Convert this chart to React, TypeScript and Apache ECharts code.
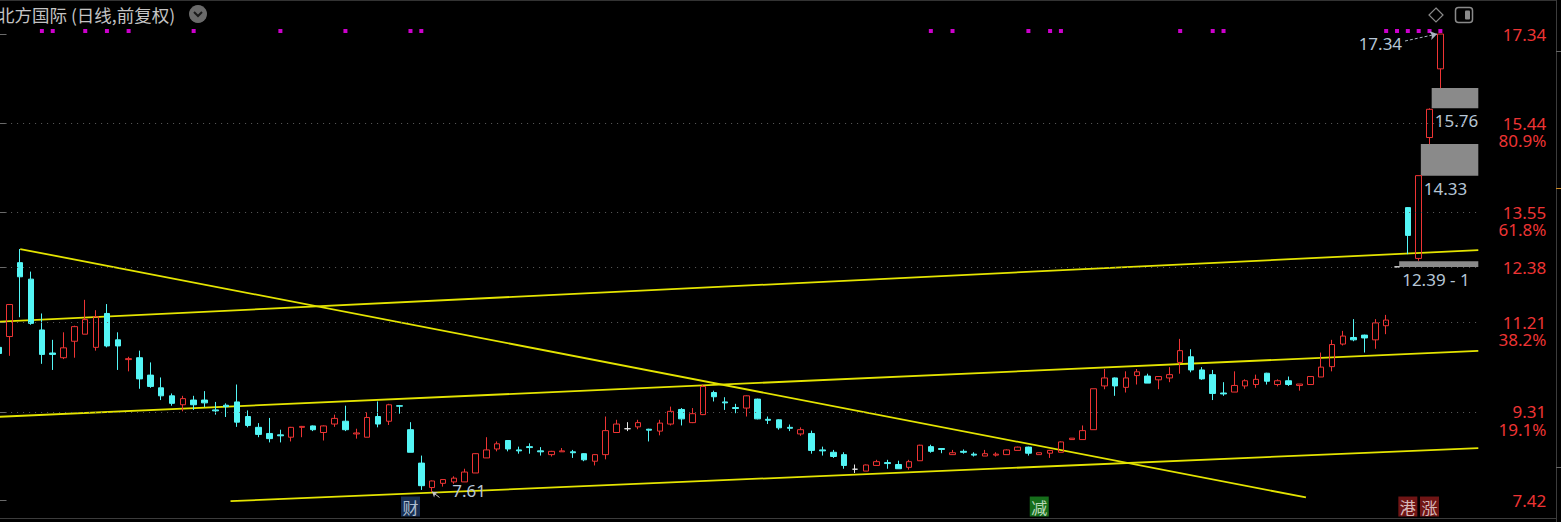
import React, { useEffect, useRef } from 'react';
import * as echarts from 'echarts';

// ---- candle data (open, close, low, high) ----
const opens = [10.68,10.91,12.48,12.13,11.05,10.56,10.46,10.81,10.96,10.68,11.40,10.84,10.42,10.46,10.09,9.82,9.65,9.46,9.56,9.56,9.35,9.45,9.52,9.21,8.98,8.85,8.82,8.77,8.98,9.01,8.87,9.05,9.11,8.84,8.77,9.21,9.11,9.44,8.93,8.22,7.70,7.79,7.82,7.82,8.01,8.33,8.52,8.70,8.50,8.57,8.48,8.40,8.46,8.46,8.42,8.26,8.40,8.87,8.95,8.99,8.94,8.90,9.05,9.36,9.08,9.25,9.72,9.52,9.40,9.39,9.58,9.15,9.14,8.98,8.84,8.85,8.50,8.45,8.40,8.09,8.05,8.17,8.23,8.19,8.13,8.27,8.57,8.53,8.40,8.47,8.41,8.37,8.39,8.40,8.49,8.56,8.40,8.43,8.45,8.72,8.72,8.93,9.86,10.03,9.83,10.08,10.07,9.99,10.03,10.36,10.48,10.20,10.10,9.71,9.73,9.86,9.89,10.13,9.89,9.97,9.87,9.89,10.05,10.27,10.75,10.89,10.94,10.84,11.14,12.39,13.65,12.57,15.14,16.60];
const closes = [10.55,11.59,12.18,11.19,10.53,10.53,10.67,11.12,11.27,11.33,10.71,10.71,10.44,10.01,9.85,9.65,9.49,9.59,9.46,9.50,9.33,9.42,9.09,9.02,8.83,8.74,8.80,8.98,9.00,8.93,9.01,9.17,8.93,8.86,9.19,9.05,9.46,9.43,8.45,7.74,7.84,7.87,7.90,8.03,8.42,8.50,8.63,8.52,8.48,8.55,8.46,8.47,8.48,8.44,8.29,8.40,8.91,9.05,8.95,9.08,8.92,9.07,9.32,9.16,9.27,9.85,9.63,9.50,9.38,9.65,9.16,9.13,8.97,8.96,8.93,8.49,8.48,8.36,8.17,8.09,8.18,8.25,8.21,8.10,8.25,8.60,8.47,8.51,8.44,8.45,8.39,8.42,8.41,8.50,8.56,8.43,8.44,8.49,8.67,8.75,8.91,9.80,10.03,9.86,10.03,10.16,9.92,10.06,10.10,10.61,10.20,10.01,9.70,9.69,9.87,9.97,10.00,9.96,9.97,9.89,9.90,10.06,10.26,10.74,10.92,10.84,10.88,11.20,11.26,12.39,13.06,14.33,15.74,17.34];
const lows = [10.33,10.50,11.32,11.16,10.33,10.20,10.43,10.46,10.96,10.61,10.68,10.20,10.17,9.80,9.82,9.56,9.44,9.32,9.35,9.41,9.25,9.20,8.99,8.98,8.77,8.66,8.66,8.68,8.77,8.90,8.70,8.99,8.90,8.74,8.77,8.98,9.03,9.27,8.45,7.65,7.61,7.72,7.78,7.82,8.01,8.33,8.47,8.47,8.42,8.42,8.38,8.36,8.46,8.33,8.26,8.17,8.30,8.86,8.90,8.94,8.68,8.81,9.02,9.02,9.07,9.24,9.53,9.35,9.28,9.21,9.15,9.05,8.93,8.90,8.80,8.42,8.38,8.33,8.10,8.01,8.05,8.17,8.10,8.10,8.08,8.27,8.44,8.43,8.40,8.42,8.36,8.37,8.36,8.40,8.49,8.38,8.40,8.33,8.45,8.72,8.72,8.93,9.79,9.65,9.72,9.89,9.92,9.79,9.94,10.12,10.15,9.99,9.56,9.65,9.73,9.80,9.82,9.89,9.85,9.86,9.76,9.89,10.05,10.17,10.72,10.81,10.57,10.65,10.96,12.39,12.66,12.52,15.00,16.19];
const highs = [11.23,11.60,12.77,12.29,11.40,10.84,11.00,11.14,11.69,11.47,11.60,11.00,10.48,10.61,10.36,10.04,9.70,9.65,9.65,9.75,9.52,9.49,9.89,9.34,9.07,9.18,8.93,8.99,9.01,9.02,9.02,9.25,9.44,8.95,9.30,9.53,9.48,9.45,9.09,8.38,7.85,7.88,7.94,8.10,8.43,8.77,8.68,8.71,8.57,8.64,8.56,8.48,8.54,8.50,8.43,8.41,9.21,9.14,9.09,9.14,8.95,9.14,9.42,9.39,9.39,9.89,9.76,9.62,9.48,9.66,9.59,9.21,9.15,9.04,8.98,8.91,8.57,8.50,8.45,8.19,8.19,8.29,8.29,8.27,8.29,8.61,8.61,8.54,8.50,8.51,8.45,8.50,8.45,8.51,8.57,8.57,8.44,8.50,8.68,8.75,9.02,9.80,10.22,10.04,10.17,10.22,10.12,10.07,10.26,10.86,10.64,10.26,10.20,9.94,10.17,10.00,10.10,10.14,10.00,10.06,9.90,10.07,10.57,10.84,11.03,11.28,10.95,11.28,11.37,12.39,13.66,14.33,15.76,17.34];
const emptySlots = 3;

// ---- axis ----
const yMin = 7.053;
const yMax = 18.063;
const priceTicks = [7.42, 9.31, 11.21, 12.38, 13.55, 15.44, 17.34];
const fibTicks = [9.31, 11.21, 13.55, 15.44];
const fibLabels = ['19.1%', '38.2%', '61.8%', '80.9%'];
const dottedLevels = [9.31, 11.21, 12.38, 13.55, 15.44];

// ---- trend lines: [index, price] endpoints ----
const trendDown = [[2, 12.77], [120.6, 7.49]];
const trendUpHigh = [[-0.5, 11.218], [136.5, 12.748]];
const trendUpMid = [[-0.5, 9.199], [136.5, 10.607]];
const trendUpLow = [[21.4, 7.41], [136.5, 8.54]];

// ---- gaps ----
const gapFrom = [132, 131, 129];
const gapLow = [15.76, 14.33, 12.39];
const gapHigh = [16.19, 15.0, 12.51];
const gapText = ['15.76', '14.33', '12.39 - 1'];

// ---- marks on top / bottom ----
const dotIndices = [4, 5, 8, 10, 12, 18, 26, 32, 38, 39, 86, 88, 95, 97, 98, 109, 112, 113, 128, 129, 130, 131, 132, 133];
const dotLevel = 17.404;
const eventIdx = [38, 96, 130, 132];
const eventText = ['财', '减', '港', '涨'];
const eventBg = ['#1d3a66', '#1c8a22', '#8c1a1a', '#8c1a1a'];
const eventFg = ['#d8e4f2', '#e6f6e6', '#f4e6e6', '#f4e6e6'];
const eventLevel = 7.297;

const maxIdx = 133;
const maxVal = 17.34;
const minIdx = 40;
const minVal = 7.61;

const RED = '#ee3434';
const CYAN = '#54f6f6';
const FLAT = '#e6e6e6';
const YELLOW = '#e4e400';
const NOTE = '#b6c6d6';
const FONT = "'Noto Sans', 'Noto Sans CJK SC', sans-serif";
const CJK = "'Noto Sans CJK SC', sans-serif";

export default function App() {
  const ref = useRef<HTMLDivElement>(null);
  useEffect(() => {
    if (!ref.current) return;
    const chart = echarts.init(ref.current, null, { renderer: 'svg' });
    const n = opens.length;
    const cats = Array.from({ length: n + emptySlots }, (_, i) => String(i));
    const candleData = opens.map((o, i) => {
      const c = closes[i];
      const stroke = c > o ? RED : c < o ? CYAN : FLAT;
      const fill = c > o ? 'rgba(0,0,0,0)' : stroke;
      return {
        value: [o, c, lows[i], highs[i]],
        itemStyle: { color: fill, color0: fill, borderColor: stroke, borderColor0: stroke, borderColorDoji: stroke },
      };
    });
    const trendSeries = [trendDown, trendUpHigh, trendUpMid, trendUpLow].map((d) => ({
      type: 'line',
      xAxisIndex: 1,
      yAxisIndex: 0,
      data: d,
      symbol: 'none',
      showSymbol: false,
      silent: true,
      z: 1,
      lineStyle: { color: YELLOW, width: 1.8 },
    }));
    const option: any = {
      animation: false,
      backgroundColor: '#000000',
      textStyle: { fontFamily: FONT },
      grid: { left: -6.9, top: 0, width: 1485.2, height: 518, containLabel: false, outerBoundsMode: 'none' },
      xAxis: [
        {
          type: 'category', data: cats, boundaryGap: true,
          axisLine: { show: false }, axisTick: { show: false }, axisLabel: { show: false }, splitLine: { show: false },
        },
        { type: 'value', min: -0.5, max: n + emptySlots - 0.5, show: false, position: 'top' },
      ],
      yAxis: [
        {
          type: 'value', position: 'right', min: yMin, max: yMax,
          axisLine: { show: true, lineStyle: { color: '#4a4a4a', width: 1 } },
          axisTick: { show: true, length: 8, inside: false, customValues: priceTicks, lineStyle: { color: '#6a6a6a' } },
          axisLabel: {
            show: true, customValues: priceTicks, formatter: (v: number) => v.toFixed(2),
            color: RED, fontSize: 17, align: 'right', verticalAlign: 'middle', margin: 68, fontFamily: FONT,
          },
          splitLine: { show: false },
        },
        {
          type: 'value', position: 'right', min: yMin, max: yMax,
          axisLine: { show: false }, axisTick: { show: false }, splitLine: { show: false },
          axisLabel: {
            show: true, customValues: fibTicks,
            formatter: (v: number) => {
              const k = fibTicks.findIndex((t) => Math.abs(t - v) < 1e-6);
              return k >= 0 ? fibLabels[k] : '';
            },
            color: RED, fontSize: 17, align: 'right', verticalAlign: 'top', padding: [9, 0, 0, 0], margin: 68, fontFamily: FONT,
          },
        },
      ],
      series: [
        ...trendSeries,
        {
          // host for reference levels, gap boxes and extreme notes
          type: 'line',
          xAxisIndex: 1,
          yAxisIndex: 0,
          data: [],
          symbol: 'none',
          silent: true,
          z: 2,
          markLine: {
            silent: true,
            symbol: ['none', 'none'],
            label: { show: false },
            data: [
              ...dottedLevels.map((v) => ({ yAxis: v, lineStyle: { color: '#5e5e5e', width: 1, type: [1, 5] } })),
              [
                { x: 1405, y: 41, symbol: 'none', lineStyle: { color: '#a8b4c0', width: 1, type: [3, 2] } },
                { coord: [maxIdx - 0.3, maxVal], symbol: 'arrow', symbolSize: 7 },
              ],
              [
                { x: 439.5, y: 497.5, symbol: 'none', lineStyle: { color: '#c8c8c8', width: 1, type: 'solid' } },
                { coord: [minIdx, minVal], symbol: 'arrow', symbolSize: 5 },
              ],
            ],
          },
          markArea: {
            silent: true,
            itemStyle: { color: '#8a8a8a' },
            label: {
              show: true, position: ['0%', '100%'], align: 'left', verticalAlign: 'top', offset: [3, 4],
              color: NOTE, fontSize: 17, fontFamily: FONT,
            },
            data: gapFrom.map((ix, k) => [
              { xAxis: ix + 0.2, yAxis: gapHigh[k], name: gapText[k] },
              { xAxis: n + emptySlots - 0.5, yAxis: gapLow[k] },
            ]),
          },
          markPoint: {
            silent: true,
            symbol: 'rect',
            symbolSize: 1,
            itemStyle: { color: 'rgba(0,0,0,0)' },
            label: { show: true, position: 'inside', color: NOTE, fontSize: 17, fontFamily: FONT },
            data: [
              { coord: [maxIdx, maxVal], label: { formatter: maxVal.toFixed(2), offset: [-60, 9] } },
              { coord: [minIdx, minVal], label: { formatter: minVal.toFixed(2), offset: [37, -1] } },
            ],
          },
        },
        {
          type: 'candlestick',
          xAxisIndex: 0,
          yAxisIndex: 0,
          data: candleData,
          barWidth: 6,
          z: 3,
          itemStyle: {
            color: 'rgba(0,0,0,0)', color0: CYAN, borderColor: RED, borderColor0: CYAN,
            borderColorDoji: FLAT, borderWidth: 1,
          },
        },
        {
          type: 'scatter',
          xAxisIndex: 0,
          yAxisIndex: 0,
          symbol: 'rect',
          symbolSize: 4,
          silent: true,
          itemStyle: { color: '#ff00ff' },
          data: dotIndices.map((i) => [i, dotLevel]),
          z: 4,
        },
        {
          type: 'scatter',
          xAxisIndex: 0,
          yAxisIndex: 0,
          symbol: 'rect',
          symbolSize: [19, 20],
          silent: true,
          z: 4,
          label: { show: true, position: 'inside', fontSize: 16, fontFamily: CJK },
          data: eventIdx.map((ix, k) => ({
            value: [ix, eventLevel],
            itemStyle: { color: eventBg[k] },
            label: { formatter: eventText[k], color: eventFg[k] },
          })),
        },
      ],
      graphic: [
        { type: 'line', silent: true, shape: { x1: 0, y1: 0.5, x2: 1556, y2: 0.5 }, style: { stroke: '#333333', lineWidth: 1 } },
        { type: 'line', silent: true, shape: { x1: 0, y1: 518.5, x2: 1556, y2: 518.5 }, style: { stroke: '#3c3c3c', lineWidth: 1 } },
        { type: 'line', silent: true, shape: { x1: 1556.5, y1: 0, x2: 1556.5, y2: 522 }, style: { stroke: '#3c3c3c', lineWidth: 1 } },
        { type: 'line', silent: true, shape: { x1: 1556, y1: 51.5, x2: 1561, y2: 51.5 }, style: { stroke: '#666666', lineWidth: 1 } },
        { type: 'line', silent: true, shape: { x1: 1556, y1: 188.5, x2: 1561, y2: 188.5 }, style: { stroke: '#d08a20', lineWidth: 1 } },
        { type: 'line', silent: true, shape: { x1: 1556, y1: 467.5, x2: 1561, y2: 467.5 }, style: { stroke: '#666666', lineWidth: 1 } },
        {
          type: 'text', silent: true, x: -3, y: 14,
          style: { text: '北方国际 (日线,前复权)', fill: '#c4c4c4', fontSize: 17.5, fontFamily: CJK, verticalAlign: 'middle' },
        },
        { type: 'circle', silent: true, shape: { cx: 198, cy: 14, r: 9 }, style: { fill: '#6a6a6a' } },
        {
          type: 'polyline', silent: true, shape: { points: [[194, 12], [198, 16], [202, 12]] },
          style: { stroke: '#1a1a1a', lineWidth: 2, fill: null },
        },
        {
          type: 'polygon', silent: true, shape: { points: [[1436, 8], [1443, 15], [1436, 22], [1429, 15]] },
          style: { stroke: '#8a8a8a', fill: 'none', lineWidth: 1.2 },
        },
        {
          type: 'rect', silent: true, shape: { x: 1455.5, y: 7.5, width: 17, height: 15, r: 3 },
          style: { stroke: '#8a8a8a', fill: 'none', lineWidth: 1.5 },
        },
        { type: 'rect', silent: true, shape: { x: 1465, y: 10.5, width: 5, height: 9, r: 1 }, style: { fill: '#8a8a8a' } },
      ],
    };
    chart.setOption(option);
    return () => chart.dispose();
  }, []);
  return (
    <div
      ref={ref}
      style={{ position: 'fixed', left: 0, top: 0, width: 1561, height: 522, background: '#000000' }}
    />
  );
}
